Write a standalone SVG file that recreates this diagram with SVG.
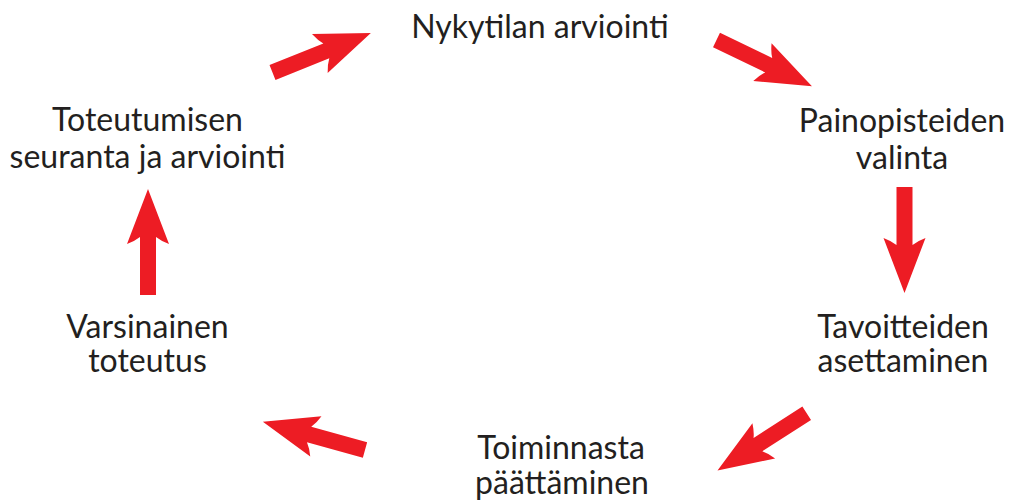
<svg xmlns="http://www.w3.org/2000/svg" width="1010" height="504" viewBox="0 0 1010 504">
<style>
.lbl{font-family:Lato,"Liberation Sans",sans-serif;font-size:32px;fill:#231f20;text-anchor:middle}
.arr{fill:#ed1c24}
</style>
<defs>
<path id="arrow" d="M0,-8 L58,-8 Q54,-13 51,-21 L106,0 L51,21 Q54,13 58,8 L0,8 Z"/>
</defs>
<rect width="1010" height="504" fill="#fff"/>
<g id="connectors" class="arr">
<use href="#arrow" transform="translate(272.5,72.5) rotate(-21.9)"/>
<use href="#arrow" transform="translate(716.5,40) rotate(25.8)"/>
<use href="#arrow" transform="translate(904.5,187) rotate(90)"/>
<use href="#arrow" transform="translate(806.7,413.3) rotate(147.3)"/>
<use href="#arrow" transform="translate(365,450) rotate(195.5)"/>
<use href="#arrow" transform="translate(148,295) rotate(-90)"/>
</g>
<g id="n1"><text class="lbl" x="540" y="38">Nykytilan arviointi</text></g>
<g id="n2"><text class="lbl" x="902" y="131.5">Painopisteiden</text><text class="lbl" x="902" y="168.5">valinta</text></g>
<g id="n3"><text class="lbl" x="903" y="337.5">Tavoitteiden</text><text class="lbl" x="903" y="372">asettaminen</text></g>
<g id="n4"><text class="lbl" x="561" y="458.5">Toiminnasta</text><text class="lbl" x="562" y="493.5">päättäminen</text></g>
<g id="n5"><text class="lbl" x="147.5" y="338">Varsinainen</text><text class="lbl" x="147.5" y="372">toteutus</text></g>
<g id="n6"><text class="lbl" x="147.5" y="131">Toteutumisen</text><text class="lbl" x="147.5" y="168">seuranta ja arviointi</text></g>
</svg>
